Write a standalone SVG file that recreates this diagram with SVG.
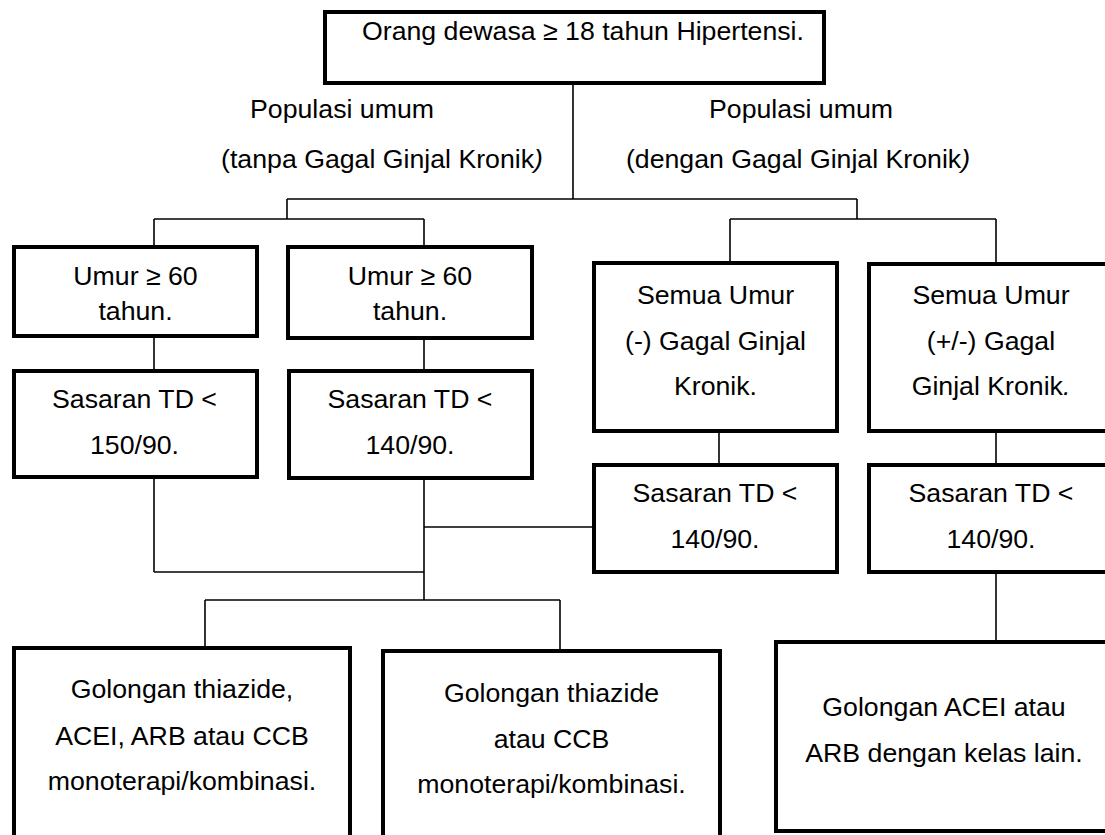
<svg xmlns="http://www.w3.org/2000/svg" width="1105" height="835" viewBox="0 0 1105 835">
  <style>
    .box { fill: #ffffff; stroke: #000000; stroke-width: 4; }
    .t { font-family: "Liberation Sans", Arial, sans-serif; font-size: 26.7px; fill: #000000; text-anchor: middle; }
    .lbl { font-family: "Liberation Sans", Arial, sans-serif; font-size: 26.7px; fill: #000000; text-anchor: middle; }
    .conn line { stroke: #000000; stroke-width: 1.6; }
  </style>
  <rect x="0" y="0" width="1105" height="835" fill="#ffffff"/>

  <!-- connectors -->
  <g id="connectors" class="conn">
    <line x1="573" y1="84" x2="573" y2="199"/>
    <line x1="287" y1="199" x2="857" y2="199"/>
    <line x1="287" y1="199" x2="287" y2="219"/>
    <line x1="857" y1="199" x2="857" y2="219"/>
    <line x1="154" y1="219" x2="424" y2="219"/>
    <line x1="730" y1="219" x2="996" y2="219"/>
    <line x1="154" y1="219" x2="154" y2="246"/>
    <line x1="424" y1="219" x2="424" y2="246"/>
    <line x1="730" y1="219" x2="730" y2="262"/>
    <line x1="996" y1="219" x2="996" y2="263"/>
    <line x1="154" y1="337" x2="154" y2="370"/>
    <line x1="424" y1="339" x2="424" y2="370"/>
    <line x1="719" y1="432" x2="719" y2="464"/>
    <line x1="996" y1="432" x2="996" y2="464"/>
    <line x1="154" y1="478" x2="154" y2="572"/>
    <line x1="424" y1="479" x2="424" y2="600"/>
    <line x1="154" y1="572" x2="424" y2="572"/>
    <line x1="424" y1="527" x2="593" y2="527"/>
    <line x1="205" y1="600" x2="560" y2="600"/>
    <line x1="205" y1="600" x2="205" y2="647"/>
    <line x1="560" y1="600" x2="560" y2="650"/>
    <line x1="996" y1="573" x2="996" y2="641"/>
  </g>

  <!-- branch labels -->
  <g id="label-tanpa">
    <text class="lbl" x="342" y="118">Populasi umum</text>
    <text class="lbl" x="382" y="168">(tanpa Gagal Ginjal Kronik<tspan font-style="italic">)</tspan></text>
  </g>
  <g id="label-dengan">
    <text class="lbl" x="801" y="118">Populasi umum</text>
    <text class="lbl" x="798" y="168">(dengan Gagal Ginjal Kronik<tspan font-style="italic">)</tspan></text>
  </g>

  <g id="root">
    <rect class="box" x="325" y="12" width="499" height="71"/>
    <text class="t" x="583" y="40">Orang dewasa ≥ 18 tahun Hipertensi.</text>
  </g>

  <g id="umur-a">
    <rect class="box" x="14" y="247" width="243" height="89"/>
    <text class="t" x="135.5" y="285">Umur ≥ 60</text>
    <text class="t" x="135.5" y="320">tahun.</text>
  </g>
  <g id="umur-b">
    <rect class="box" x="288" y="247" width="244" height="91"/>
    <text class="t" x="410" y="285">Umur ≥ 60</text>
    <text class="t" x="410" y="320">tahun.</text>
  </g>
  <g id="semua-a">
    <rect class="box" x="594" y="263" width="243" height="168"/>
    <text class="t" x="715.5" y="304">Semua Umur</text>
    <text class="t" x="715.5" y="350">(-) Gagal Ginjal</text>
    <text class="t" x="715.5" y="395">Kronik.</text>
  </g>
  <g id="semua-b">
    <rect class="box" x="869" y="264" width="250" height="167"/>
    <text class="t" x="991" y="304">Semua Umur</text>
    <text class="t" x="991" y="350">(+/-) Gagal</text>
    <text class="t" x="991" y="395">Ginjal Kronik<tspan font-style="italic">.</tspan></text>
  </g>

  <g id="sasaran-150">
    <rect class="box" x="14" y="371" width="243" height="106"/>
    <text class="t" x="134.5" y="408">Sasaran TD &lt;</text>
    <text class="t" x="134.5" y="454">150/90.</text>
  </g>
  <g id="sasaran-140-a">
    <rect class="box" x="289" y="371" width="243" height="107"/>
    <text class="t" x="410" y="408">Sasaran TD &lt;</text>
    <text class="t" x="410" y="454">140/90.</text>
  </g>
  <g id="sasaran-140-b">
    <rect class="box" x="594" y="465" width="243" height="107"/>
    <text class="t" x="715" y="502">Sasaran TD &lt;</text>
    <text class="t" x="715" y="548">140/90.</text>
  </g>
  <g id="sasaran-140-c">
    <rect class="box" x="869" y="465" width="250" height="107"/>
    <text class="t" x="991" y="502">Sasaran TD &lt;</text>
    <text class="t" x="991" y="548">140/90.</text>
  </g>

  <g id="terapi-a">
    <rect class="box" x="14" y="648" width="336" height="200"/>
    <text class="t" x="182" y="698">Golongan thiazide,</text>
    <text class="t" x="182" y="745">ACEI, ARB atau CCB</text>
    <text class="t" x="182" y="790">monoterapi/kombinasi.</text>
  </g>
  <g id="terapi-b">
    <rect class="box" x="383" y="651" width="337" height="200"/>
    <text class="t" x="551.5" y="702">Golongan thiazide</text>
    <text class="t" x="551.5" y="748">atau CCB</text>
    <text class="t" x="551.5" y="793">monoterapi/kombinasi.</text>
  </g>
  <g id="terapi-c">
    <rect class="box" x="776" y="642" width="340" height="189"/>
    <text class="t" x="944" y="716">Golongan ACEI atau</text>
    <text class="t" x="944" y="762">ARB dengan kelas lain.</text>
  </g>
</svg>
